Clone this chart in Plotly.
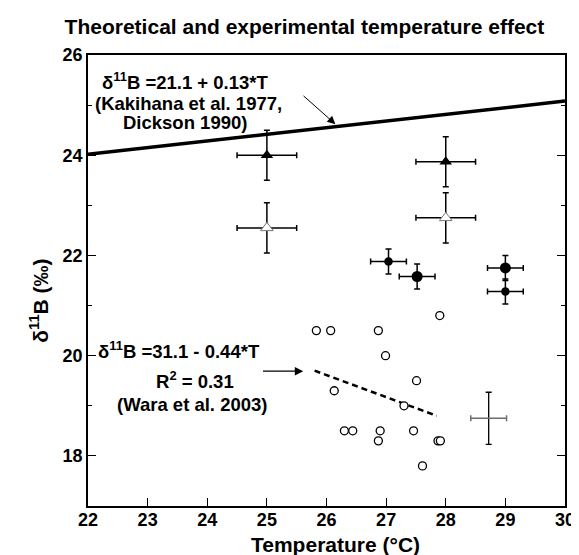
import plotly.graph_objects as go

FONT = "Liberation Sans, Arial, sans-serif"

# ---- data ----
open_temp = [25.83, 26.07, 26.87, 26.99, 27.90, 27.51, 26.13, 27.30, 26.30, 26.44,
             26.90, 26.87, 27.46, 27.87, 27.91, 27.61]
open_d11b = [20.5, 20.5, 20.5, 20.0, 20.8, 19.5, 19.3, 19.0, 18.5, 18.5,
             18.5, 18.3, 18.5, 18.3, 18.3, 17.8]

tri_filled_temp = [25.0, 28.0]
tri_filled_d11b = [24.0, 23.87]
tri_open_temp = [25.0, 28.0]
tri_open_d11b = [22.55, 22.75]
tri_err_x = 0.5
tri_err_y = 0.5

big_dot_temp = [27.52, 29.0]
big_dot_d11b = [21.58, 21.75]
small_dot_temp = [27.04, 29.0]
small_dot_d11b = [21.88, 21.28]
dot_err_x = 0.3
dot_err_y = 0.25

typ_err_temp = [28.72]
typ_err_d11b = [18.75]
typ_err_x = 0.3
typ_err_y = 0.52

theory_temp = [22.0, 30.0]
theory_d11b = [24.02, 25.08]

wara_temp = [25.8, 27.85]
wara_d11b = [19.7, 18.8]

x_ticks = [22, 23, 24, 25, 26, 27, 28, 29, 30]
y_ticks = [18, 20, 22, 24, 26]

fig = go.Figure()

# theoretical line
fig.add_trace(go.Scatter(x=theory_temp, y=theory_d11b, mode="lines",
                         line=dict(color="black", width=3.5), showlegend=False))
# Wara regression
fig.add_trace(go.Scatter(x=wara_temp, y=wara_d11b, mode="lines",
                         line=dict(color="black", width=2.5, dash="6px,4px"), showlegend=False))

# open circles
fig.add_trace(go.Scatter(x=open_temp, y=open_d11b, mode="markers",
                         marker=dict(symbol="circle", size=8, color="white",
                                     line=dict(color="black", width=1.3)),
                         showlegend=False))

eb = dict(color="black", thickness=1.5, width=3)

# triangles
fig.add_trace(go.Scatter(x=tri_filled_temp, y=tri_filled_d11b, mode="markers",
                         marker=dict(symbol="triangle-up", size=11, color="black"),
                         error_x=dict(type="constant", value=tri_err_x, **eb),
                         error_y=dict(type="constant", value=tri_err_y, **eb),
                         showlegend=False))
fig.add_trace(go.Scatter(x=tri_open_temp, y=tri_open_d11b, mode="markers",
                         marker=dict(symbol="triangle-up", size=11, color="white",
                                     line=dict(color="#777777", width=1)),
                         error_x=dict(type="constant", value=tri_err_x, **eb),
                         error_y=dict(type="constant", value=tri_err_y, **eb),
                         showlegend=False))

# filled dots
fig.add_trace(go.Scatter(x=big_dot_temp, y=big_dot_d11b, mode="markers",
                         marker=dict(symbol="circle", size=11, color="black"),
                         error_x=dict(type="constant", value=dot_err_x, **eb),
                         error_y=dict(type="constant", value=dot_err_y, **eb),
                         showlegend=False))
fig.add_trace(go.Scatter(x=small_dot_temp, y=small_dot_d11b, mode="markers",
                         marker=dict(symbol="circle", size=8.5, color="black"),
                         error_x=dict(type="constant", value=dot_err_x, **eb),
                         error_y=dict(type="constant", value=dot_err_y, **eb),
                         showlegend=False))

# typical error cross
fig.add_trace(go.Scatter(x=typ_err_temp, y=typ_err_d11b, mode="markers",
                         marker=dict(size=1, color="rgba(0,0,0,0)"),
                         error_x=dict(type="constant", value=typ_err_x, color="#6e6e6e",
                                      thickness=1.5, width=3),
                         error_y=dict(type="constant", value=typ_err_y, color="black",
                                      thickness=1.3, width=3),
                         showlegend=False))

af = dict(family=FONT, size=18.5, color="black", weight="bold")
ann = []
for txt, x, y in [("δ<sup>11</sup>B =21.1 + 0.13*T", 23.64, 25.48),
                  ("(Kakihana et al. 1977,", 23.68, 25.035),
                  ("Dickson 1990)", 23.62, 24.65),
                  ("δ<sup>11</sup>B =31.1 - 0.44*T", 23.52, 20.12),
                  ("R<sup>2</sup> = 0.31", 23.80, 19.51),
                  ("(Wara et al. 2003)", 23.74, 19.03)]:
    ann.append(dict(x=x, y=y, xref="x", yref="y", text=txt, showarrow=False,
                    font=af, xanchor="center", yanchor="middle"))

# arrows
ann.append(dict(x=26.15, y=24.62, ax=25.59, ay=25.21, xref="x", yref="y",
                axref="x", ayref="y", text="", showarrow=True, arrowhead=2,
                arrowsize=1.6, arrowwidth=1, arrowcolor="black"))
ann.append(dict(x=25.61, y=19.69, ax=24.91, ay=19.69, xref="x", yref="y",
                axref="x", ayref="y", text="", showarrow=True, arrowhead=2,
                arrowsize=1.3, arrowwidth=1.3, arrowcolor="black"))

# axis titles as annotations
ann.append(dict(x=26.15, y=-0.085, xref="x", yref="paper", text="Temperature (°C)",
                showarrow=False, font=dict(family=FONT, size=21, color="black", weight="bold"),
                xanchor="center", yanchor="middle"))
ann.append(dict(x=-0.103, y=0.455, xref="paper", yref="paper",
                text="δ<sup>11</sup>B (‰)", textangle=-90, showarrow=False,
                font=dict(family=FONT, size=21, color="black", weight="bold"),
                xanchor="center", yanchor="middle"))

fig.update_layout(
    width=579, height=555,
    margin=dict(l=80, r=12, t=47, b=57),
    paper_bgcolor="white", plot_bgcolor="white",
    title=dict(text="Theoretical and experimental temperature effect",
               x=0.512, xanchor="center", y=0.966, yanchor="middle",
               font=dict(family=FONT, size=21, color="black", weight="bold")),
    annotations=ann,
    font=dict(family=FONT, color="black"),
)

fig.update_xaxes(range=[22, 30], tickvals=x_ticks, ticktext=[str(v) for v in x_ticks],
                 ticks="inside", ticklen=8, tickwidth=1.3, tickcolor="black",
                 ticklabelstandoff=-3,
                 showline=True, linecolor="black", linewidth=1.5, mirror=True,
                 showgrid=False, zeroline=False,
                 tickfont=dict(family=FONT, size=18, color="black", weight="bold"))
fig.update_yaxes(range=[17, 26], tickvals=y_ticks, ticktext=[str(v) for v in y_ticks],
                 ticks="inside", ticklen=8, tickwidth=1.3, tickcolor="black",
                 minor=dict(tickvals=[17, 19, 21, 23, 25], ticks="inside", ticklen=4,
                            tickwidth=1.3, tickcolor="black", showgrid=False),
                 showline=True, linecolor="black", linewidth=1.5, mirror="ticks",
                 showgrid=False, zeroline=False,
                 tickfont=dict(family=FONT, size=18, color="black", weight="bold"))

fig.write_html("out.html")
